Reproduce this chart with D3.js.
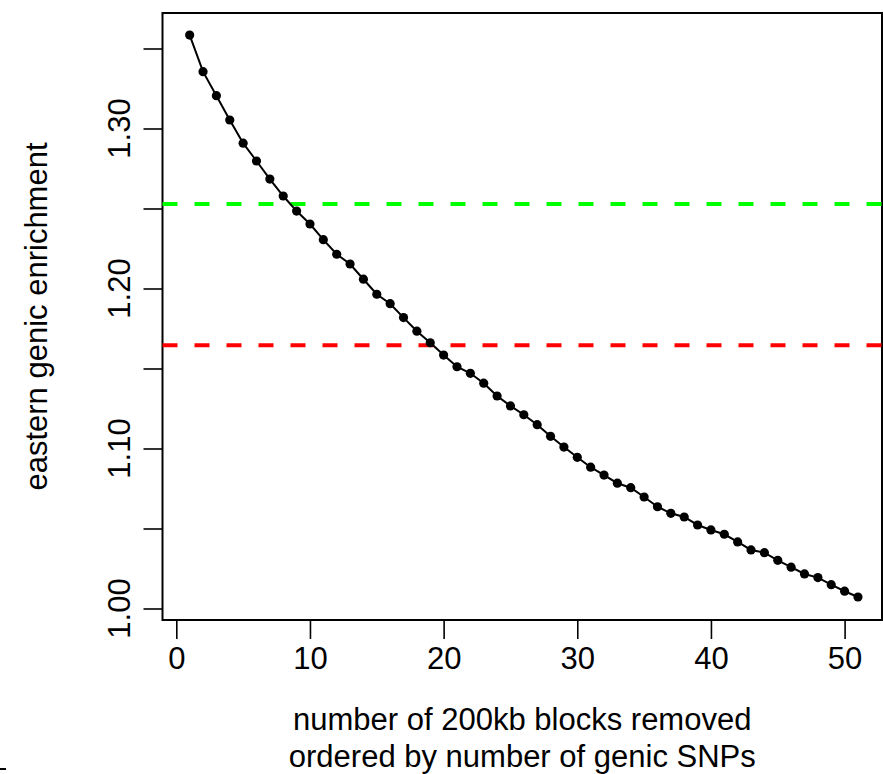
<!DOCTYPE html>
<html>
<head>
<meta charset="utf-8">
<script src="https://cdn.jsdelivr.net/npm/d3@7"></script>
<style>
  body { margin: 0; background: #fff; }
  svg text { font-family: "Liberation Sans", Arial, Helvetica, sans-serif; fill: #000; }
</style>
</head>
<body>
<svg id="svg" width="883" height="774"></svg>
<script>
// blocks removed (x) and the enrichment left after removing them (y)
var blocks = [1, 2, 3, 4, 5, 6, 7, 8, 9, 10, 11, 12, 13, 14, 15, 16, 17, 18, 19, 20,
  21, 22, 23, 24, 25, 26, 27, 28, 29, 30, 31, 32, 33, 34, 35, 36, 37, 38, 39, 40,
  41, 42, 43, 44, 45, 46, 47, 48, 49, 50, 51];
var enrichment = [1.3584, 1.3355, 1.3205, 1.3053, 1.2908, 1.2797, 1.2684, 1.2578, 1.2484, 1.2403,
  1.2305, 1.2214, 1.2153, 1.2058, 1.1964, 1.1905, 1.1818, 1.1733, 1.1661, 1.1584,
  1.1511, 1.1470, 1.1408, 1.1328, 1.1266, 1.1211, 1.1149, 1.1076, 1.1009, 1.0945,
  1.0883, 1.0834, 1.0783, 1.0755, 1.0697, 1.0636, 1.0595, 1.0572, 1.0522, 1.0491,
  1.0464, 1.0416, 1.0366, 1.0349, 1.0301, 1.0258, 1.0216, 1.0193, 1.0149, 1.0108,
  1.0072];

var xTicks = [0, 10, 20, 30, 40, 50];
var yTicks = [1.00, 1.05, 1.10, 1.15, 1.20, 1.25, 1.30, 1.35];
var yLabels = [1.00, 1.10, 1.20, 1.30];

// horizontal reference lines
var refValues = [1.2528, 1.1645];
var refColors = ["#00ff00", "#ff0000"];

var xLab = ["number of 200kb blocks removed", "ordered by number of genic SNPs"];
var yLab = "eastern genic enrichment";

var box = {left: 162.5, right: 882, top: 13, bottom: 620};
var fs = 31;
var midX = (box.left + box.right) / 2;
var midY = (box.top + box.bottom) / 2;

var x = d3.scaleLinear().domain([0, 50]).range([176.3, 844.6]);
var y = d3.scaleLinear().domain([1.0, 1.35]).range([608.5, 48.5]);

var svg = d3.select("#svg");

// frame
svg.append("rect")
  .attr("x", box.left).attr("y", box.top)
  .attr("width", box.right - box.left).attr("height", box.bottom - box.top)
  .attr("fill", "none").attr("stroke", "#000").attr("stroke-width", 2);

// x axis
var xa = svg.append("g").attr("transform", "translate(0," + box.bottom + ")")
  .call(d3.axisBottom(x).tickValues(xTicks).tickSize(19).tickPadding(8).tickFormat(d3.format("d")));
xa.select(".domain").remove();
xa.selectAll("line").attr("stroke-width", 1.6);
xa.selectAll("text").attr("font-size", fs).attr("font-family", null).attr("fill", "#000");

// y axis
var ya = svg.append("g").attr("transform", "translate(" + box.left + ",0)")
  .call(d3.axisLeft(y).tickValues(yTicks).tickSize(19).tickFormat(""));
ya.select(".domain").remove();
ya.selectAll("line").attr("stroke-width", 1.6);
svg.selectAll(".lbl").data(yLabels).enter().append("text")
  .attr("class", "lbl")
  .attr("transform", function(d) { return "translate(130," + y(d) + ") rotate(-90)"; })
  .attr("text-anchor", "middle")
  .attr("font-size", fs)
  .text(function(d) { return d.toFixed(2); });

// reference lines
svg.selectAll(".ref").data(refValues).enter().append("line")
  .attr("class", "ref")
  .attr("x1", box.left).attr("x2", box.right)
  .attr("y1", function(d) { return y(d); }).attr("y2", function(d) { return y(d); })
  .attr("stroke", function(d, i) { return refColors[i]; })
  .attr("stroke-width", 4)
  .attr("stroke-dasharray", "15,17");

// series
var pts = blocks.map(function(b, i) { return [b, enrichment[i]]; });
svg.append("path")
  .attr("d", d3.line().x(function(d) { return x(d[0]); }).y(function(d) { return y(d[1]); })(pts))
  .attr("fill", "none").attr("stroke", "#000").attr("stroke-width", 2);
svg.selectAll(".pt").data(pts).enter().append("circle")
  .attr("class", "pt")
  .attr("cx", function(d) { return x(d[0]); })
  .attr("cy", function(d) { return y(d[1]); })
  .attr("r", 4.6).attr("fill", "#000");

// axis titles
svg.selectAll(".xlab").data(xLab).enter().append("text")
  .attr("class", "xlab")
  .attr("x", midX).attr("y", function(d, i) { return 730 + i * 37; })
  .attr("text-anchor", "middle").attr("font-size", fs)
  .text(function(d) { return d; });

svg.append("text")
  .attr("transform", "translate(47," + midY + ") rotate(-90)")
  .attr("text-anchor", "middle").attr("font-size", fs)
  .text(yLab);

// stray mark bottom left
svg.append("line").attr("x1", 0).attr("x2", 6).attr("y1", 769).attr("y2", 769)
  .attr("stroke", "#000").attr("stroke-width", 2);
</script>
</body>
</html>
